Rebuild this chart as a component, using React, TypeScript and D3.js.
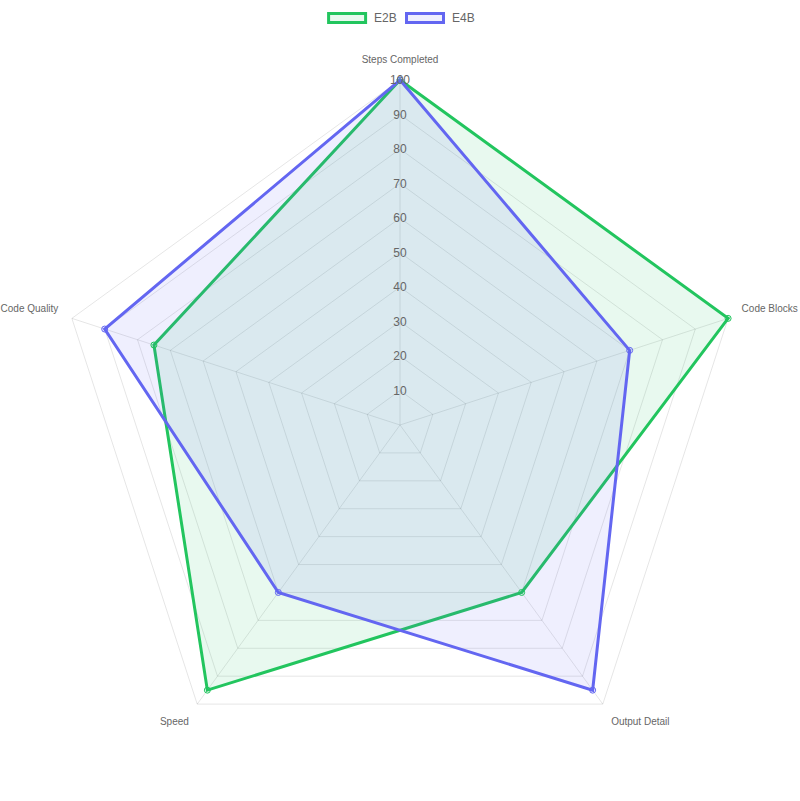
import { useRef, useEffect } from "react";
import * as d3 from "d3";

const labels = ["Steps Completed", "Code Blocks", "Output Detail", "Speed", "Code Quality"];
const e2b = [100, 100, 60, 95, 75];
const e4b = [100, 70, 95, 60, 90];
const ticks = [10, 20, 30, 40, 50, 60, 70, 80, 90, 100];

const series = [
  { name: "E2B", values: e2b, stroke: "#22c55e", fill: "rgba(34,197,94,0.1)" },
  { name: "E4B", values: e4b, stroke: "#6366f1", fill: "rgba(99,102,241,0.1)" },
];

const W = 800;
const H = 801;
const FONT = "'Helvetica Neue', Helvetica, Arial, 'Liberation Sans', sans-serif";

const App = () => {
  const ref = useRef<SVGSVGElement | null>(null);

  useEffect(() => {
    const svg = d3.select(ref.current);
    svg.selectAll("*").remove();

    const cx = 400;
    const cy = 425;
    const R = 345;
    const n = labels.length;

    const r = d3.scaleLinear().domain([0, 100]).range([0, R]);
    const angle = (i: number) => (i * 2 * Math.PI) / n;
    const pt = (i: number, rad: number): [number, number] => [
      cx + rad * Math.sin(angle(i)),
      cy - rad * Math.cos(angle(i)),
    ];

    const grid = svg.append("g");
    // rings
    ticks.forEach((t) => {
      const pts = labels.map((_, i) => pt(i, r(t)));
      grid
        .append("polygon")
        .attr("points", pts.map((p) => p.join(",")).join(" "))
        .attr("fill", "none")
        .attr("stroke", "rgba(0,0,0,0.1)")
        .attr("stroke-width", 1);
    });
    // angle lines
    labels.forEach((_, i) => {
      const [x, y] = pt(i, R);
      grid
        .append("line")
        .attr("x1", cx)
        .attr("y1", cy)
        .attr("x2", x)
        .attr("y2", y)
        .attr("stroke", "rgba(0,0,0,0.1)")
        .attr("stroke-width", 1);
    });

    // point labels
    labels.forEach((label, i) => {
      const [x, y] = pt(i, R + 14.2);
      const deg = (angle(i) * 180) / Math.PI;
      let anchor = "middle";
      if (deg > 0.5 && deg < 179.5) anchor = "start";
      else if (deg > 180.5) anchor = "end";
      let top = y;
      if (Math.abs(deg - 90) < 0.5 || Math.abs(deg - 270) < 0.5) top = y - 6;
      else if (deg > 270 || deg < 90) top = y - 12;
      svg
        .append("text")
        .attr("x", x)
        .attr("y", top + 6)
        .attr("text-anchor", anchor)
        .attr("dominant-baseline", "central")
        .attr("font-family", FONT)
        .attr("font-size", 10)
        .attr("fill", "#666")
        .text(label);
    });

    // datasets
    const line = d3
      .line<number>()
      .x((d, i) => pt(i, r(d))[0])
      .y((d, i) => pt(i, r(d))[1])
      .curve(d3.curveLinearClosed);

    series.forEach((s) => {
      svg
        .append("path")
        .attr("d", line(s.values))
        .attr("fill", s.fill)
        .attr("stroke", s.stroke)
        .attr("stroke-width", 3)
        .attr("stroke-linejoin", "miter");
    });
    series.forEach((s) => {
      svg
        .append("g")
        .selectAll("circle")
        .data(s.values)
        .enter()
        .append("circle")
        .attr("cx", (d, i) => pt(i, r(d))[0])
        .attr("cy", (d, i) => pt(i, r(d))[1])
        .attr("r", 3)
        .attr("fill", s.fill)
        .attr("stroke", s.stroke)
        .attr("stroke-width", 1);
    });

    // tick labels
    ticks.forEach((t) => {
      svg
        .append("text")
        .attr("x", cx)
        .attr("y", cy - r(t))
        .attr("text-anchor", "middle")
        .attr("dominant-baseline", "central")
        .attr("font-family", FONT)
        .attr("font-size", 12)
        .attr("fill", "#666")
        .text(t);
    });

    // legend
    const legend = svg.append("g");
    const boxW = 40;
    const gap = 10;
    const itemGap = 10;
    const widths = series.map((s) => boxW + 6 + s.name.length * 7.3);
    const total = d3.sum(widths) + itemGap * (series.length - 1);
    let lx = W / 2 - total / 2;
    series.forEach((s, i) => {
      legend
        .append("rect")
        .attr("x", lx + 1.5)
        .attr("y", 13.5)
        .attr("width", boxW - 3)
        .attr("height", 9)
        .attr("fill", s.fill)
        .attr("stroke", s.stroke)
        .attr("stroke-width", 3);
      legend
        .append("text")
        .attr("x", lx + boxW + gap - 3)
        .attr("y", 18)
        .attr("dominant-baseline", "central")
        .attr("font-family", FONT)
        .attr("font-size", 12)
        .attr("fill", "#666")
        .text(s.name);
      lx += widths[i] + itemGap;
    });
  }, []);

  return (
    <div style={{ position: "absolute", left: 0, top: 0 }}>
      <svg ref={ref} width={W} height={H} style={{ display: "block", background: "#fff" }} />
    </div>
  );
};

export default App;
